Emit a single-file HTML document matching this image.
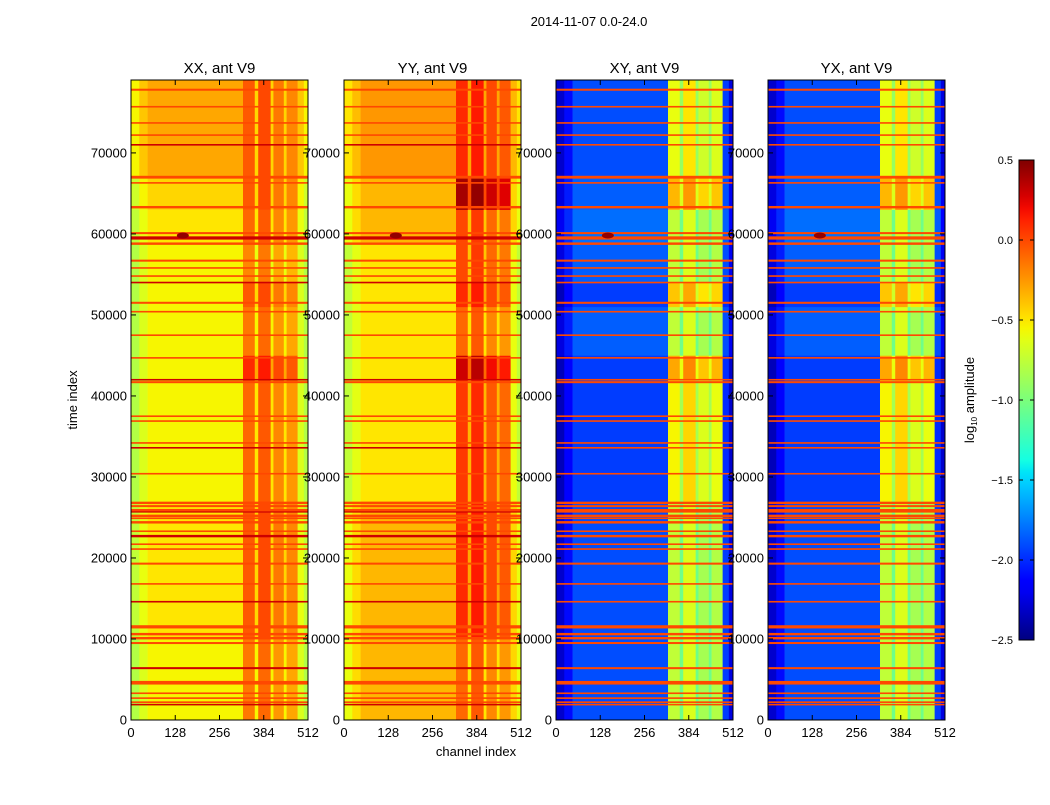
<!DOCTYPE html>
<html><head><meta charset="utf-8"><style>
body{margin:0;background:#fff;width:1050px;height:800px;overflow:hidden;font-family:"Liberation Sans",sans-serif}
svg text{font-family:"Liberation Sans",sans-serif}
</style></head><body>
<svg id="fig" width="1050" height="800" xmlns="http://www.w3.org/2000/svg">
<rect width="1050" height="800" fill="#fff"/>
<text x="589" y="26" font-size="13" text-anchor="middle">2014-11-07 0.0-24.0</text>
<text x="476" y="756" font-size="13" text-anchor="middle">channel index</text>
<text transform="translate(77,400) rotate(-90)" font-size="13" text-anchor="middle">time index</text>
<text transform="translate(974,400) rotate(-90)" font-size="13" text-anchor="middle">log<tspan font-size="8" dy="3">10</tspan><tspan dy="-3"> amplitude</tspan></text>
</svg>
<script>
// channel band edges (channel index)
const bandEdges=[0,24,48,324,358,368,404,412,442,450,482,500,512];
// base log10 amplitude per channel band, per panel
const baseXX=[-0.8,-0.65,-0.55,-0.15,-0.55,-0.1,-0.55,-0.25,-0.55,-0.3,-0.65,-0.8];
const baseYY=[-0.75,-0.62,-0.5,-0.1,-0.5,-0.05,-0.5,-0.2,-0.5,-0.25,-0.6,-0.75];
const baseXY=[-2.35,-2.15,-1.95,-0.75,-1.05,-0.65,-1.05,-0.85,-1.05,-0.8,-2.0,-2.3];
const baseYX=[-2.35,-2.15,-1.95,-0.75,-1.05,-0.65,-1.05,-0.85,-1.05,-0.8,-2.0,-2.3];
// time segments
const segEdges=[0,10000,27000,42000,45000,51000,54000,59000,63000,67000,79000];
const segLeftXX=[0,0.05,0,0,0,0,0,0.05,0.1,0.25];
const segBandXX=[0,0.1,0.05,0.25,0,0.1,-0.05,0.05,0.1,0.1];
const segLeftYY=[0.15,0.15,0,0,0,0,0,0.15,0.15,0.25];
const segBandYY=[0,0.2,0.15,0.4,0,0.2,0.1,0.1,0.5,0.2];
const segLeftXY=[0.05,0.05,0,0,0.1,0,0.1,0.15,0.1,0.05];
const segBandXY=[0,0,0.2,0.45,0,0.35,0,0,0.4,0.15];
// RFI flagged times and thickness (time units)
const rfiTimes=[1900,2200,2700,3300,4600,6400,9500,10100,10600,11500,14600,16800,19300,21100,21700,22700,23300,24400,24900,25200,25700,25900,26400,26800,30400,33600,34200,36900,37500,41700,42000,44700,47500,50400,51500,54000,54800,55800,56700,58800,59500,60100,63300,66300,67000,71000,72200,73700,75700,77800];
const rfiWidth=[200,200,200,200,450,250,250,300,300,400,200,200,250,200,200,300,200,300,200,300,200,300,250,300,200,200,200,200,200,250,200,200,200,200,250,200,200,200,250,300,400,250,300,200,350,200,200,200,200,250];
const yTicks=[0,10000,20000,30000,40000,50000,60000,70000];
const xTicks=[0,128,256,384,512];
const cbTicks=[-2.5,-2.0,-1.5,-1.0,-0.5,0.0,0.5];
const panels=[
 {name:'XX, ant V9',x0:131,base:baseXX,sl:segLeftXX,sb:segBandXX},
 {name:'YY, ant V9',x0:344,base:baseYY,sl:segLeftYY,sb:segBandYY},
 {name:'XY, ant V9',x0:556,base:baseXY,sl:segLeftXY,sb:segBandXY},
 {name:'YX, ant V9',x0:768,base:baseYX,sl:segLeftXY,sb:segBandXY}];
const W=177,Y0=80,Y1=720,TMAX=79000,VMIN=-2.5,VMAX=0.5;
const NS='http://www.w3.org/2000/svg',svg=document.getElementById('fig');
const JR=[[0,0],[0.35,0],[0.66,1],[0.89,1],[1,0.5]];
const JG=[[0,0],[0.125,0],[0.375,1],[0.64,1],[0.91,0],[1,0]];
const JB=[[0,0.5],[0.11,1],[0.34,1],[0.65,0],[1,0]];
function seg(s,t){for(let i=1;i<s.length;i++){if(t<=s[i][0]){const a=s[i-1],b=s[i];return a[1]+(b[1]-a[1])*(t-a[0])/(b[0]-a[0]);}}return s[s.length-1][1];}
function jet(v){const t=Math.max(0,Math.min(1,(v-VMIN)/(VMAX-VMIN)));
 return `rgb(${Math.round(255*seg(JR,t))},${Math.round(255*seg(JG,t))},${Math.round(255*seg(JB,t))})`;}
function el(tag,a,p){const e=document.createElementNS(NS,tag);for(const k in a)e.setAttribute(k,a[k]);(p||svg).appendChild(e);return e;}
const ty=t=>Y1-(t/TMAX)*(Y1-Y0);
panels.forEach((p,pi)=>{
 const cx=c=>p.x0+c/512*W;
 const g=el('g',{});
 
 
 for(let s=0;s<segEdges.length-1;s++){
  for(let b=0;b<bandEdges.length-1;b++){
   const inBand=bandEdges[b]>=324&&bandEdges[b]<482;
   const v=p.base[b]+(inBand?p.sb[s]:p.sl[s]);
   const r=el('rect',{x:cx(bandEdges[b]),y:ty(segEdges[s+1]),width:cx(bandEdges[b+1])-cx(bandEdges[b])+0.3,height:ty(segEdges[s])-ty(segEdges[s+1])+0.3,fill:jet(v)},g);
   
   
  }}
 rfiTimes.forEach((t,i)=>{
  const r=el('rect',{x:p.x0,y:ty(t+rfiWidth[i]/2),width:W,height:Math.max(1.2,ty(t-rfiWidth[i]/2)-ty(t+rfiWidth[i]/2)),fill:jet(pi<2&&i%5==0?0.3:0.0)},g);
  
  
 });
 const sp=el('ellipse',{cx:cx(150),cy:ty(59800),rx:6,ry:3,fill:jet(0.45)},g);
 
 
 const fr=el('rect',{x:p.x0,y:Y0,width:W,height:Y1-Y0,fill:'none',stroke:'#000','stroke-width':1});
 
 
 const tt=el('text',{x:p.x0+W/2,y:73,'font-size':15,'text-anchor':'middle'});tt.textContent=p.name;
 
 
 yTicks.forEach(v=>{const y=ty(v);
  el('line',{x1:p.x0,x2:p.x0+5,y1:y,y2:y,stroke:'#000'});el('line',{x1:p.x0+W,x2:p.x0+W-5,y1:y,y2:y,stroke:'#000'});
  const l=el('text',{x:p.x0-4,y:y+4.5,'font-size':13,'text-anchor':'end'});l.textContent=v;
  
  });
 xTicks.forEach(v=>{const x=cx(v);
  el('line',{x1:x,x2:x,y1:Y1,y2:Y1-5,stroke:'#000'});el('line',{x1:x,x2:x,y1:Y0,y2:Y0+5,stroke:'#000'});
  const l=el('text',{x:x,y:737,'font-size':13,'text-anchor':'middle'});l.textContent=v;
  
  });
});
// colorbar
const defs=el('defs',{});const gr=el('linearGradient',{id:'jetg',x1:0,y1:1,x2:0,y2:0},defs);
for(let i=0;i<=40;i++){el('stop',{offset:i/40,'stop-color':jet(VMIN+i/40*(VMAX-VMIN))},gr);}
const cb=el('rect',{x:1019,y:160,width:15,height:480,fill:'url(#jetg)',stroke:'#000'});


cbTicks.forEach(v=>{const y=640-(v-VMIN)/(VMAX-VMIN)*480;
 el('line',{x1:1019,x2:1023,y1:y,y2:y,stroke:'#000'});el('line',{x1:1034,x2:1030,y1:y,y2:y,stroke:'#000'});
 const l=el('text',{x:1013,y:y+4,'font-size':11,'text-anchor':'end'});l.textContent=(v<0?'\u2212':'')+Math.abs(v).toFixed(1);
 
 });
</script>
</body></html>
